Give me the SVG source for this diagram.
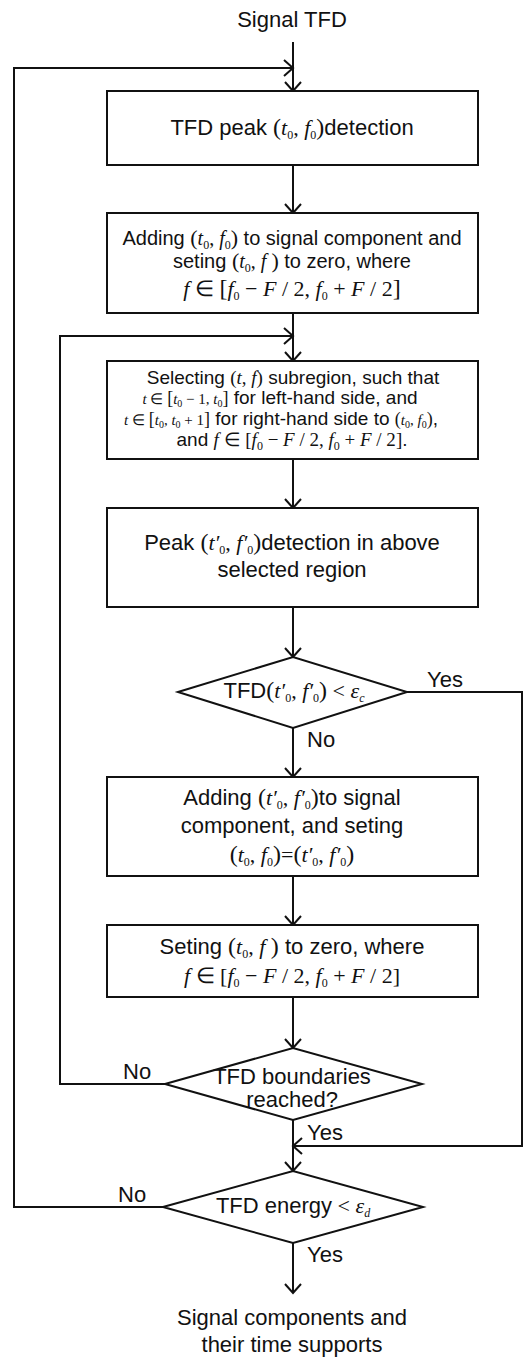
<svg xmlns="http://www.w3.org/2000/svg" width="525" height="1358" viewBox="0 0 525 1358">
<style>
.t{font-family:"Liberation Sans",Arial,sans-serif;font-size:22px;fill:#111}
.t2{font-family:"Liberation Sans",Arial,sans-serif;font-size:20px;fill:#111}
.ts{font-family:"Liberation Sans",Arial,sans-serif;font-size:19px;fill:#111}
.c{text-anchor:middle}
.m{font-family:"Liberation Serif","Times New Roman",serif;font-style:italic}
.r{font-family:"Liberation Serif","Times New Roman",serif;font-style:normal}
.p{font-family:"Liberation Serif","Times New Roman",serif;font-size:24px;font-style:normal}
.s{font-family:"Liberation Serif","Times New Roman",serif;font-size:12px;font-style:normal;baseline-shift:-4px}
.ss{font-family:"Liberation Serif","Times New Roman",serif;font-size:10px;font-style:normal;baseline-shift:-3px}
.si{font-family:"Liberation Serif","Times New Roman",serif;font-size:12px;font-style:italic;baseline-shift:-4px}
.box{fill:#fff;stroke:#111;stroke-width:2}
.ln{fill:none;stroke:#111;stroke-width:2;marker-end:url(#arr)}
</style>
<defs>
<marker id="arr" viewBox="0 0 12 18" refX="10" refY="9" markerWidth="12" markerHeight="18" markerUnits="userSpaceOnUse" orient="auto">
<path d="M1,1 L10,9 L1,17" fill="none" stroke="#111" stroke-width="2"/>
</marker>
</defs>
<rect width="525" height="1358" fill="#fff"/>

<g id="connectors">
<path class="ln" d="M293,42 V91"/>
<path class="ln" d="M163,1207 H14 V68 H293"/>
<path class="ln" d="M293,165 V213"/>
<path class="ln" d="M293,313 V361"/>
<path class="ln" d="M165,1084 H60 V336 H293"/>
<path class="ln" d="M293,459 V508"/>
<path class="ln" d="M293,607 V657"/>
<path class="ln" d="M293,728 V777"/>
<path class="ln" d="M407,692 H522 V1146 H293"/>
<path class="ln" d="M293,876 V925"/>
<path class="ln" d="M293,997 V1048"/>
<path class="ln" d="M293,1120 V1171"/>
<path class="ln" d="M293,1243 V1293"/>
</g>

<g id="start">
<text class="t c" x="292" y="27">Signal TFD</text>
</g>

<g id="n1">
<rect class="box" x="107" y="91" width="371" height="74"/>
<text class="t c" x="292" y="135">TFD peak <tspan class="p">(</tspan><tspan class="m">t</tspan><tspan class="s">0</tspan><tspan class="r">, </tspan><tspan class="m">f</tspan><tspan class="s">0</tspan><tspan class="p">)</tspan>detection</text>
</g>

<g id="n2">
<rect class="box" x="107" y="213" width="371" height="100"/>
<text class="t2 c" x="292" y="245">Adding <tspan class="r" font-size="22">(</tspan><tspan class="m">t</tspan><tspan class="s">0</tspan><tspan class="r">, </tspan><tspan class="m">f</tspan><tspan class="s">0</tspan><tspan class="r" font-size="22">)</tspan> to signal component and</text>
<text class="t2 c" x="292" y="268">seting <tspan class="r" font-size="22">(</tspan><tspan class="m">t</tspan><tspan class="s">0</tspan><tspan class="r">, </tspan><tspan class="m">f </tspan><tspan class="r" font-size="22">)</tspan> to zero, where</text>
<text class="t c" x="292" y="296"><tspan class="m">f</tspan><tspan class="r"> ∈ </tspan><tspan class="p">[</tspan><tspan class="m">f</tspan><tspan class="s">0</tspan><tspan class="r"> − </tspan><tspan class="m">F</tspan><tspan class="r"> / 2, </tspan><tspan class="m">f</tspan><tspan class="s">0</tspan><tspan class="r"> + </tspan><tspan class="m">F</tspan><tspan class="r"> / 2</tspan><tspan class="p">]</tspan></text>
</g>

<g id="n3">
<rect class="box" x="107" y="361" width="371" height="98"/>
<text class="ts c" x="293" y="384">Selecting <tspan class="r">(</tspan><tspan class="m">t</tspan><tspan class="r">, </tspan><tspan class="m">f</tspan><tspan class="r">)</tspan> subregion, such that</text>
<text class="ts c" x="280" y="404"><tspan class="m" font-size="15">t</tspan><tspan class="r" font-size="15"> ∈ </tspan><tspan class="r" font-size="18">[</tspan><tspan class="m" font-size="15">t</tspan><tspan class="ss">0</tspan><tspan class="r" font-size="15"> − 1, </tspan><tspan class="m" font-size="15">t</tspan><tspan class="ss">0</tspan><tspan class="r" font-size="18">]</tspan> for left-hand side, and</text>
<text class="ts c" x="281" y="425"><tspan class="m" font-size="15">t</tspan><tspan class="r" font-size="15"> ∈ </tspan><tspan class="r" font-size="18">[</tspan><tspan class="m" font-size="15">t</tspan><tspan class="ss">0</tspan><tspan class="r" font-size="15">, </tspan><tspan class="m" font-size="15">t</tspan><tspan class="ss">0</tspan><tspan class="r" font-size="15"> + 1</tspan><tspan class="r" font-size="18">]</tspan> for right-hand side to <tspan class="r" font-size="18">(</tspan><tspan class="m" font-size="15">t</tspan><tspan class="ss">0</tspan><tspan class="r" font-size="15">, </tspan><tspan class="m" font-size="15">f</tspan><tspan class="ss">0</tspan><tspan class="r" font-size="18">)</tspan>,</text>
<text class="ts c" x="292" y="446">and <tspan class="m">f</tspan><tspan class="r"> ∈ </tspan><tspan class="r">[</tspan><tspan class="m">f</tspan><tspan class="s">0</tspan><tspan class="r"> − </tspan><tspan class="m">F</tspan><tspan class="r"> / 2, </tspan><tspan class="m">f</tspan><tspan class="s">0</tspan><tspan class="r"> + </tspan><tspan class="m">F</tspan><tspan class="r"> / 2</tspan><tspan class="r">]</tspan>.</text>
</g>

<g id="n4">
<rect class="box" x="107" y="508" width="371" height="99"/>
<text class="t c" x="292" y="550">Peak <tspan class="p">(</tspan><tspan class="m">t′</tspan><tspan class="s">0</tspan><tspan class="r">, </tspan><tspan class="m">f′</tspan><tspan class="s">0</tspan><tspan class="p">)</tspan>detection in above</text>
<text class="t c" x="292" y="577">selected region</text>
</g>

<g id="d1">
<polygon class="box" points="178,692 293,657 407,692 293,728"/>
<text class="t c" x="294" y="698">TFD<tspan class="p">(</tspan><tspan class="m">t′</tspan><tspan class="s">0</tspan><tspan class="r">, </tspan><tspan class="m">f′</tspan><tspan class="s">0</tspan><tspan class="p">)</tspan><tspan class="r"> &lt; </tspan><tspan class="m">ε</tspan><tspan class="si">c</tspan></text>
<text class="t" x="427" y="687">Yes</text>
<text class="t" x="307" y="747">No</text>
</g>

<g id="n5">
<rect class="box" x="107" y="777" width="371" height="99"/>
<text class="t c" x="292" y="805">Adding <tspan class="p">(</tspan><tspan class="m">t′</tspan><tspan class="s">0</tspan><tspan class="r">, </tspan><tspan class="m">f′</tspan><tspan class="s">0</tspan><tspan class="p">)</tspan>to signal</text>
<text class="t c" x="292" y="833">component, and seting</text>
<text class="t c" x="292" y="862"><tspan class="p">(</tspan><tspan class="m">t</tspan><tspan class="s">0</tspan><tspan class="r">, </tspan><tspan class="m">f</tspan><tspan class="s">0</tspan><tspan class="p">)</tspan><tspan class="r">=</tspan><tspan class="p">(</tspan><tspan class="m">t′</tspan><tspan class="s">0</tspan><tspan class="r">, </tspan><tspan class="m">f′</tspan><tspan class="s">0</tspan><tspan class="p">)</tspan></text>
</g>

<g id="n6">
<rect class="box" x="107" y="925" width="371" height="72"/>
<text class="t c" x="292" y="954">Seting <tspan class="p">(</tspan><tspan class="m">t</tspan><tspan class="s">0</tspan><tspan class="r">, </tspan><tspan class="m">f </tspan><tspan class="p">)</tspan> to zero, where</text>
<text class="t c" x="292" y="983" font-size="20"><tspan class="m">f</tspan><tspan class="r"> ∈ </tspan><tspan class="r" font-size="22">[</tspan><tspan class="m">f</tspan><tspan class="s">0</tspan><tspan class="r"> − </tspan><tspan class="m">F</tspan><tspan class="r"> / 2, </tspan><tspan class="m">f</tspan><tspan class="s">0</tspan><tspan class="r"> + </tspan><tspan class="m">F</tspan><tspan class="r"> / 2</tspan><tspan class="r" font-size="22">]</tspan></text>
</g>

<g id="d2">
<polygon class="box" points="165,1084 293,1048 422,1084 293,1120"/>
<text class="t c" x="292" y="1084">TFD boundaries</text>
<text class="t c" x="292" y="1107">reached?</text>
<text class="t" x="123" y="1079">No</text>
<text class="t" x="307" y="1140">Yes</text>
</g>

<g id="d3">
<polygon class="box" points="163,1207 293,1171 423,1207 293,1243"/>
<text class="t c" x="293" y="1213">TFD energy<tspan class="r"> &lt; </tspan><tspan class="m">ε</tspan><tspan class="si">d</tspan></text>
<text class="t" x="118" y="1202">No</text>
<text class="t" x="307" y="1262">Yes</text>
</g>

<g id="end">
<text class="t c" x="292" y="1325">Signal components and</text>
<text class="t c" x="292" y="1352">their time supports</text>
</g>
</svg>
